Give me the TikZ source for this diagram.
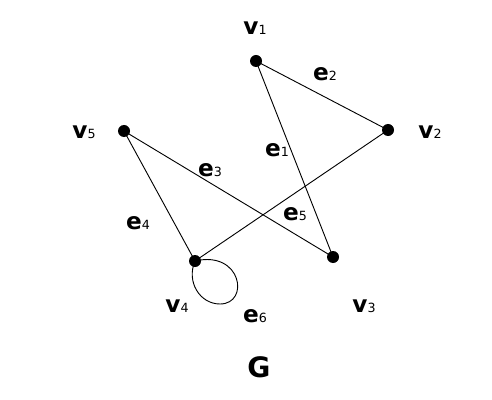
\documentclass[tikz,border=0pt]{standalone}
\usepackage{fontspec}
\setmainfont{DejaVu Sans}
\usepackage{tikz}
\usetikzlibrary{positioning}

\newcommand{\lbl}[2]{{\fontsize{16.5}{17}\selectfont\bfseries #1}{\fontsize{9}{10}\selectfont #2}}

\tikzset{
  vert/.style={circle, fill=black, inner sep=0pt, minimum size=0.3cm},
  edgeline/.style={line width=0.65pt, black},
  tag/.style={inner sep=0pt}
}

\begin{document}
\begin{tikzpicture}[x=0.025cm, y=-0.025cm]
      \useasboundingbox (0,0) rectangle (492,400);

      \node[vert] (v1) at (256,61) {};
      \node[vert] (v2) at (388,130) {};
      \node[vert] (v3) at (333,257) {};
      \node[vert] (v4) at (195,261) {};
      \node[vert] (v5) at (124,131) {};
      \coordinate (loopbot) at (220,304);

      \draw[edgeline] (v1.center) -- (v3.center);
      \draw[edgeline] (v1.center) -- (v2.center);
      \draw[edgeline] (v5.center) -- (v3.center);
      \draw[edgeline] (v5.center) -- (v4.center);
      \draw[edgeline] (v4.center) -- (v2.center);
      \draw[edgeline] (v4.center) .. controls (242,250) and (250,304) .. (loopbot)
                      .. controls (200,304) and (186,282) .. (v4.center);

      \node[tag] (l1) at (255,28) {\lbl{v}{1}};
      \node[tag] (l2) at (430,132) {\lbl{v}{2}};
      \node[tag] (l3) at (364,306) {\lbl{v}{3}};
      \node[tag] (l4) at (177,306) {\lbl{v}{4}};
      \node[tag] (l5) at (84,132) {\lbl{v}{5}};

      \node[tag] (le1) at (277,150) {\lbl{e}{1}};
      \node[tag] (le2) at (325,74) {\lbl{e}{2}};
      \node[tag] (le3) at (210,170) {\lbl{e}{3}};
      \node[tag] (le4) at (138,223) {\lbl{e}{4}};
      \node[tag] (le5) at (295,214) {\lbl{e}{5}};
      \node[tag] (le6) at (255,316) {\lbl{e}{6}};

      \node[tag] (title) at (259,367) {\fontsize{20}{22}\selectfont\bfseries G};
\end{tikzpicture}
\end{document}
